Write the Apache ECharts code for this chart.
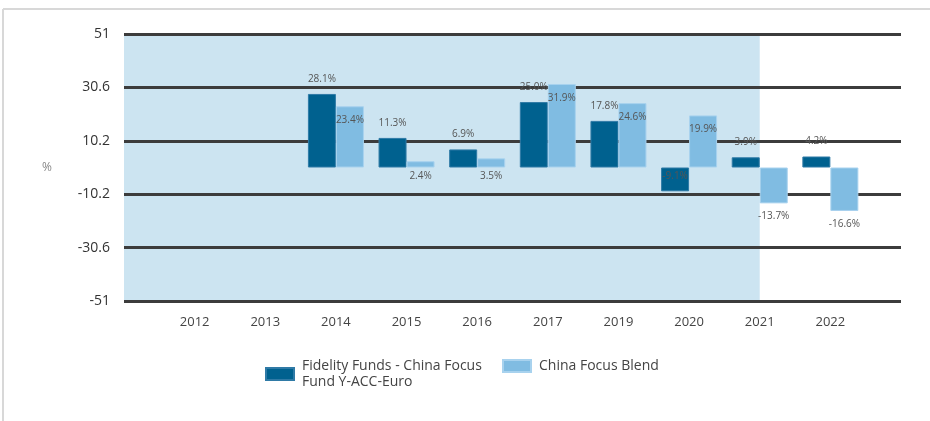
<!DOCTYPE html>
<html>
<head>
<meta charset="utf-8">
<script src="https://cdn.jsdelivr.net/npm/echarts@6/dist/echarts.min.js"></script>
<style>
  html, body { margin: 0; padding: 0; background: #fff; }
  #chart { width: 930px; height: 421px; }
</style>
</head>
<body>
<div id="chart"></div>
<script>
// empty slots at both ends so the years sit inside the grid lines
var years = [' ', '2012', '2013', '2014', '2015', '2016', '2017', '2019', '2020', '2021', '2022', '  '];
var fundValues = [null, null, null, 28.1, 11.3, 6.9, 25.0, 17.8, -9.1, 3.9, 4.2, null];
var blendValues = [null, null, null, 23.4, 2.4, 3.5, 31.9, 24.6, 19.9, -13.7, -16.6, null];
var fundName = 'Fidelity Funds - China Focus\nFund Y-ACC-Euro';
var blendName = 'China Focus Blend';
var shadedUntil = '2021';

var labelFont = { fontSize: 10, color: '#555', fontFamily: 'Open Sans' };

// label placement like the original: outside on top, inside when negative / tall
function fundLabel(v) {
  if (v < 0) return { position: 'insideTop', distance: 4 };
  return { position: 'top', distance: 10 };
}
function blendLabel(v) {
  if (v < 0) return { position: 'bottom', distance: 8 };
  if (v < 5) return { position: 'bottom', distance: 4 };
  return { position: 'insideTop', distance: 9 };
}

function toData(values, labelFn) {
  return values.map(function (v) {
    if (v === null) return null;
    return { value: v, label: labelFn(v) };
  });
}

var legendText = { fontSize: 14, color: '#444', fontFamily: 'Open Sans', lineHeight: 16, padding: [0, 0, 0, 3] };

var chart = echarts.init(document.getElementById('chart'));

var option = {
  animation: false,
  graphic: [
    { type: 'line', shape: { x1: 3, y1: 9, x2: 3, y2: 421 }, style: { stroke: '#d8d8d8', lineWidth: 2 } },
    { type: 'line', shape: { x1: 3, y1: 9, x2: 930, y2: 9 }, style: { stroke: '#d8d8d8', lineWidth: 2 } }
  ],
  grid: { left: 124, right: 29, top: 34, bottom: 120 },
  legend: [
    {
      left: 265, top: 358, padding: 0,
      itemWidth: 28, itemHeight: 12, icon: 'rect',
      textStyle: legendText,
      data: [fundName]
    },
    {
      left: 502, top: 358, padding: 0,
      itemWidth: 28, itemHeight: 12, icon: 'rect',
      textStyle: legendText,
      data: [blendName]
    }
  ],
  xAxis: [
    {
      type: 'category',
      data: years,
      boundaryGap: false,
      axisLine: { show: false },
      axisTick: { show: false },
      axisLabel: { color: '#444', fontSize: 13, margin: 15, fontFamily: 'Open Sans', interval: 0 }
    },
    {
      // hidden helper axis, same span as the categories, used for the shaded band
      type: 'value',
      min: 0,
      max: years.length - 1,
      show: false
    }
  ],
  yAxis: {
    type: 'value',
    min: -51,
    max: 51,
    interval: 20.4,
    name: '%',
    nameLocation: 'middle',
    nameRotate: 0,
    nameGap: 72,
    nameTextStyle: { color: '#888', fontSize: 12, fontFamily: 'Open Sans' },
    axisLine: { show: false },
    axisTick: { show: false },
    axisLabel: {
      color: '#333',
      fontSize: 14,
      margin: 14,
      fontFamily: 'Open Sans',
      formatter: function (v) { return String(Number(v.toFixed(1))); }
    },
    splitLine: { lineStyle: { color: '#3c3c3c', width: 3 } }
  },
  series: [
    {
      type: 'line',
      xAxisIndex: 1,
      data: [],
      silent: true,
      z: -1,
      markArea: {
        silent: true,
        z: -1,
        itemStyle: { color: '#cce4f1' },
        data: [[{ xAxis: 0 }, { xAxis: years.indexOf(shadedUntil) }]]
      }
    },
    {
      name: fundName,
      type: 'bar',
      barWidth: 28,
      barGap: '0%',
      z: 3,
      itemStyle: { color: '#00618f', borderColor: '#2f7aa6', borderWidth: 1 },
      label: Object.assign({ show: true, formatter: function (p) { return p.value.toFixed(1) + '%'; } }, labelFont),
      data: toData(fundValues, fundLabel)
    },
    {
      name: blendName,
      type: 'bar',
      barWidth: 28,
      z: 3,
      itemStyle: { color: '#80bce2', borderColor: '#a8d2ee', borderWidth: 1 },
      label: Object.assign({ show: true, formatter: function (p) { return p.value.toFixed(1) + '%'; } }, labelFont),
      data: toData(blendValues, blendLabel)
    }
  ]
};

chart.setOption(option);
</script>
</body>
</html>
